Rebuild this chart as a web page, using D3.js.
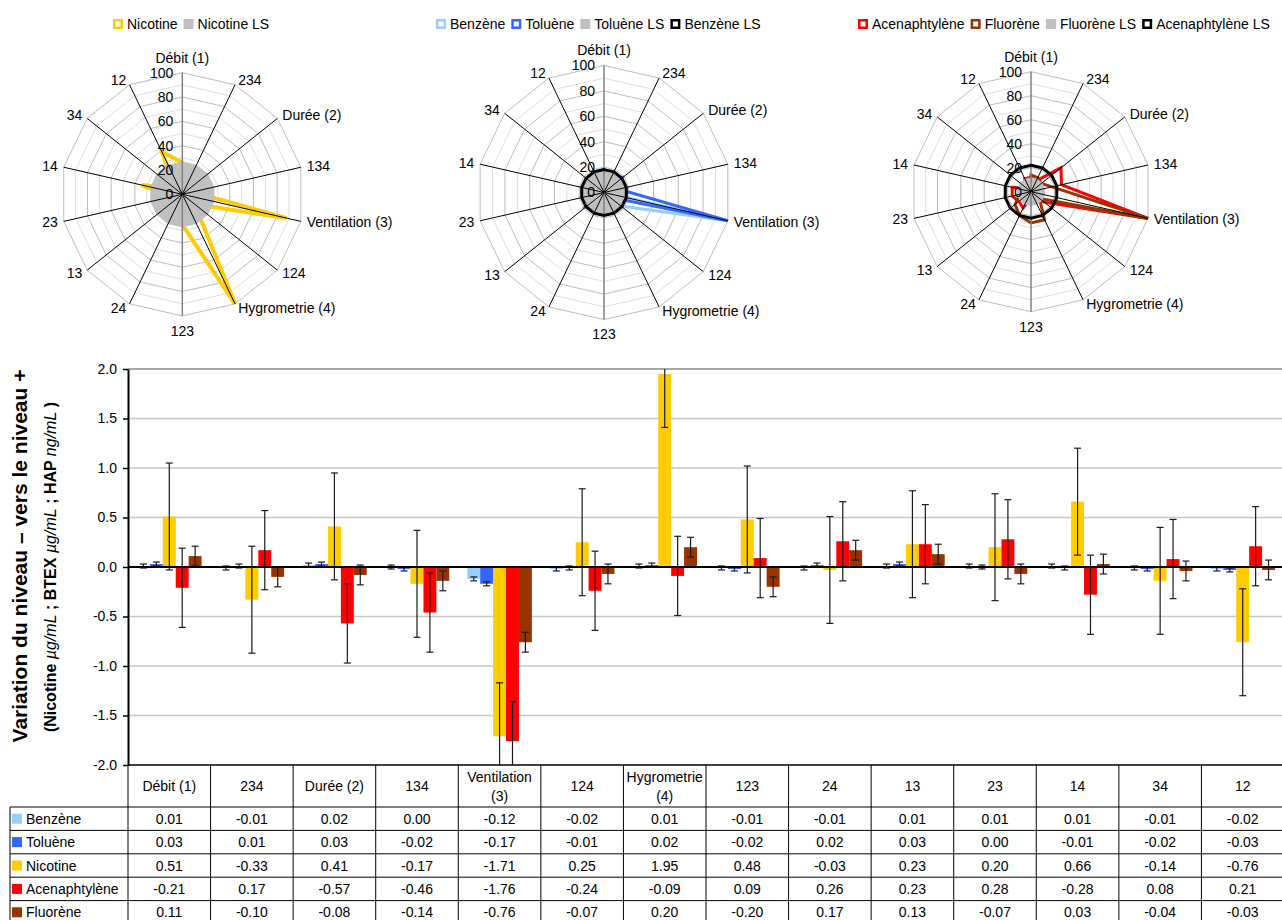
<!DOCTYPE html>
<html><head><meta charset="utf-8">
<script src="https://cdn.jsdelivr.net/npm/d3@7"></script>
<style>
body{margin:0;background:#fff;}
svg{display:block;font-family:"Liberation Sans",Arial,sans-serif;}
</style></head><body>
<svg id="chart" width="1282" height="920"></svg>
<script>
// ---------- DATA ----------
const categories = ["Débit (1)","234","Durée (2)","134","Ventilation (3)","124","Hygrometrie (4)","123","24","13","23","14","34","12"];
const headerLabels = [["Débit (1)"],["234"],["Durée (2)"],["134"],["Ventilation","(3)"],["124"],["Hygrometrie","(4)"],["123"],["24"],["13"],["23"],["14"],["34"],["12"]];
const seriesNames = ["Benzène","Toluène","Nicotine","Acenaphtylène","Fluorène"];
const seriesColors = ["#99CCFF","#3366FF","#FFCC00","#FF0000","#993300"];

const benzene       = [0.01,-0.01,0.02,0.00,-0.12,-0.02,0.01,-0.01,-0.01,0.01,0.01,0.01,-0.01,-0.02];
const toluene       = [0.03,0.01,0.03,-0.02,-0.17,-0.01,0.02,-0.02,0.02,0.03,0.00,-0.01,-0.02,-0.03];
const nicotine      = [0.51,-0.33,0.41,-0.17,-1.71,0.25,1.95,0.48,-0.03,0.23,0.20,0.66,-0.14,-0.76];
const acenaphtylene = [-0.21,0.17,-0.57,-0.46,-1.76,-0.24,-0.09,0.09,0.26,0.23,0.28,-0.28,0.08,0.21];
const fluorene      = [0.11,-0.10,-0.08,-0.14,-0.76,-0.07,0.20,-0.20,0.17,0.13,-0.07,0.03,-0.04,-0.03];

const errBenzene       = [0.02,0.02,0.02,0.02,0.02,0.02,0.02,0.02,0.02,0.02,0.02,0.02,0.02,0.02];
const errToluene       = [0.02,0.02,0.02,0.02,0.02,0.02,0.02,0.02,0.02,0.02,0.02,0.02,0.02,0.02];
const errNicotine      = [0.54,0.54,0.54,0.54,0.54,0.54,0.54,0.54,0.54,0.54,0.54,0.54,0.54,0.54];
const errAcenaphtylene = [0.40,0.40,0.40,0.40,0.40,0.40,0.40,0.40,0.40,0.40,0.40,0.40,0.40,0.40];
const errFluorene      = [0.10,0.10,0.10,0.10,0.10,0.10,0.10,0.10,0.10,0.10,0.10,0.10,0.10,0.10];

const yTicks = [-2.0,-1.5,-1.0,-0.5,0.0,0.5,1.0,1.5,2.0];

// radar values (% of max effect per compound)
const radarTicks = [0,20,40,60,80,100];
const radarNicotine      = [26,17,21,9,88,13,100,25,2,12,10,34,7,39];
const radarNicotineLS    = [27,27,27,27,27,27,27,27,27,27,27,27,27,27];
const radarBenzene       = [8,8,17,0,100,17,8,8,8,8,8,8,8,17];
const radarToluene       = [18,6,18,12,100,6,12,12,12,18,0,6,12,18];
const radarTolueneLS     = [17,17,17,17,17,17,17,17,17,17,17,17,17,17];
const radarBenzeneLS     = [18,18,18,18,18,18,18,18,18,18,18,18,18,18];
const radarAcenaphtylene = [12,10,32,26,100,14,5,5,15,13,16,16,5,12];
const radarFluorene      = [14,13,11,18,100,9,26,26,22,17,9,4,5,4];
const radarFluoreneLS    = [12,12,12,12,12,12,12,12,12,12,12,12,12,12];
const radarAcenaphtyleneLS = [22,22,22,22,22,22,22,22,22,22,22,22,22,22];

// ---------- SETUP ----------
const svg = d3.select("#chart");
const seriesValues = [benzene, toluene, nicotine, acenaphtylene, fluorene];
const seriesErrors = [errBenzene, errToluene, errNicotine, errAcenaphtylene, errFluorene];

const plot = {left:128, right:1284, top:369, bottom:765};
const x0 = d3.scaleBand().domain(categories).range([plot.left, plot.right]).padding(0);
const x1 = d3.scaleBand().domain(seriesNames).range([9, x0.bandwidth()-9]).padding(0);
const y = d3.scaleLinear().domain([-2,2]).range([plot.bottom, plot.top]);

// gridlines
svg.append("g").selectAll("line").data(yTicks.filter(d=>d>-2)).join("line")
  .attr("x1",plot.left).attr("x2",plot.right)
  .attr("y1",d=>y(d)).attr("y2",d=>y(d))
  .attr("stroke",d=>d===2?"#a6a6a6":"#c8c8c8").attr("stroke-width",d=>d===2?2:1.5);

// bars
const barsG = svg.append("g");
seriesNames.forEach((s,si)=>{
  barsG.append("g").selectAll("rect").data(seriesValues[si]).join("rect")
    .attr("x",(d,i)=>x0(categories[i])+x1(s))
    .attr("width",x1.bandwidth())
    .attr("y",d=>y(Math.max(0,d)))
    .attr("height",d=>Math.abs(y(d)-y(0)))
    .attr("fill",seriesColors[si]);
});

// error bars
const errG = svg.append("g").attr("stroke","#1a1a1a").attr("stroke-width",1.2);
seriesNames.forEach((s,si)=>{
  seriesValues[si].forEach((v,i)=>{
    const e = seriesErrors[si][i];
    const cx = x0(categories[i])+x1(s)+x1.bandwidth()/2;
    const hi = v+e, lo = v-e;
    const hiC = Math.min(2,hi), loC = Math.max(-2,lo);
    errG.append("line").attr("x1",cx).attr("x2",cx).attr("y1",y(hiC)).attr("y2",y(loC));
    if (hi<=2) errG.append("line").attr("x1",cx-3.5).attr("x2",cx+3.5).attr("y1",y(hi)).attr("y2",y(hi));
    if (lo>=-2) errG.append("line").attr("x1",cx-3.5).attr("x2",cx+3.5).attr("y1",y(lo)).attr("y2",y(lo));
  });
});

// zero line
svg.append("line").attr("x1",plot.left).attr("x2",plot.right).attr("y1",y(0)).attr("y2",y(0))
  .attr("stroke","#000").attr("stroke-width",2);

// y axis
const yAxis = d3.axisLeft(y).tickValues(yTicks).tickFormat(d=>d.toFixed(1)).tickSize(5).tickSizeOuter(0).tickPadding(6);
const ya = svg.append("g").attr("transform",`translate(${plot.left},0)`).call(yAxis);
ya.select(".domain").attr("stroke","#000").attr("stroke-width",2);
ya.selectAll(".tick line").attr("stroke","#000").attr("stroke-width",1.5);
ya.selectAll(".tick text").attr("font-size",14).attr("fill","#000").attr("font-family",'"Liberation Sans",Arial,sans-serif');

// y axis titles
svg.append("text").attr("transform",`translate(27,${(plot.top+plot.bottom)/2-11}) rotate(-90)`)
  .attr("text-anchor","middle").attr("font-weight","bold").attr("font-size",21)
  .text("Variation du niveau – vers le niveau +");
const t2 = svg.append("text").attr("transform",`translate(56,${(plot.top+plot.bottom)/2}) rotate(-90)`)
  .attr("text-anchor","middle").attr("font-size",16).attr("font-weight","bold");
[["(Nicotine ",false],["µg/mL",true],[" ; BTEX ",false],["µg/mL",true],[" ; HAP ",false],["ng/mL",true],[" )",false]]
  .forEach(([t,it])=>{
    const ts = t2.append("tspan").text(t);
    if(it) ts.attr("font-style","italic").attr("font-weight","normal");
  });

// ---------- TABLE ----------
const tableLeft = 10;
const headerTop = plot.bottom, headerBottom = 807;
const rowH = 23.4;
const rowTops = seriesNames.map((s,i)=>headerBottom+i*rowH);
const tG = svg.append("g");
// horizontal row lines
tG.selectAll("line.h").data(rowTops).join("line").attr("class","h")
  .attr("x1",tableLeft).attr("x2",plot.right).attr("y1",d=>d).attr("y2",d=>d)
  .attr("stroke","#000").attr("stroke-width",1);
// vertical boundaries
const bounds = categories.map(c=>x0(c)).concat([plot.right]);
tG.selectAll("line.v").data(bounds).join("line").attr("class","v")
  .attr("x1",d=>d).attr("x2",d=>d).attr("y1",headerTop).attr("y2",920)
  .attr("stroke","#000").attr("stroke-width",1);
tG.append("line").attr("x1",tableLeft).attr("x2",tableLeft).attr("y1",headerBottom).attr("y2",920)
  .attr("stroke","#000").attr("stroke-width",1);
// x axis line
svg.append("line").attr("x1",plot.left).attr("x2",plot.right).attr("y1",plot.bottom).attr("y2",plot.bottom)
  .attr("stroke","#000").attr("stroke-width",1.5);

// header labels
headerLabels.forEach((lines,i)=>{
  const cx = x0(categories[i])+x0.bandwidth()/2;
  const cy = (headerTop+headerBottom)/2;
  const txt = tG.append("text").attr("x",cx).attr("text-anchor","middle").attr("font-size",14).attr("fill","#000");
  if(lines.length===1){
    txt.attr("y",cy+5).text(lines[0]);
  } else {
    txt.append("tspan").attr("x",cx).attr("y",cy-4).text(lines[0]);
    txt.append("tspan").attr("x",cx).attr("y",cy+15).text(lines[1]);
  }
});
// rows
seriesNames.forEach((s,si)=>{
  const top = rowTops[si], mid = top+rowH/2;
  tG.append("rect").attr("x",12).attr("y",mid-5).attr("width",10).attr("height",10).attr("fill",seriesColors[si]);
  tG.append("text").attr("x",26).attr("y",mid+5).attr("font-size",14).attr("fill","#000").text(s);
  tG.append("g").selectAll("text").data(seriesValues[si]).join("text")
    .attr("x",(d,i)=>x0(categories[i])+x0.bandwidth()/2).attr("y",mid+5)
    .attr("text-anchor","middle").attr("font-size",14).attr("fill","#000")
    .text(d=>d.toFixed(2));
});

// ---------- RADARS ----------
const step = 2*Math.PI/categories.length;
function drawRadar(cx, cy, R, layers, legendX, legend){
  const g = svg.append("g").attr("transform",`translate(${cx},${cy})`);
  const r = d3.scaleLinear().domain([0,100]).range([0,R]);
  const ringLine = d3.lineRadial().angle((d,i)=>i*step).radius(d=>r(d)).curve(d3.curveLinearClosed);
  // rings
  const rings = d3.range(10,101,10);
  g.append("g").selectAll("path").data(rings).join("path")
    .attr("d",v=>ringLine(categories.map(()=>v)))
    .attr("fill","none").attr("stroke",v=>v%20===0?"#bdbdbd":"#dedede").attr("stroke-width",1);
  const seriesLine = d3.lineRadial().angle((d,i)=>i*step).radius(d=>r(d)).curve(d3.curveLinearClosed);
  // data lines and fills except "top" lines
  layers.filter(l=>!l.top).forEach(l=>{
    const p = g.append("path").attr("d",seriesLine(l.values));
    if(l.type==="fill") p.attr("fill",l.color).attr("stroke","none");
    else p.attr("fill","none").attr("stroke",l.color).attr("stroke-width",l.width).attr("stroke-linejoin","miter");
  });
  // spokes
  g.append("g").selectAll("line").data(categories).join("line")
    .attr("x1",0).attr("y1",0)
    .attr("x2",(d,i)=>R*Math.sin(i*step)).attr("y2",(d,i)=>-R*Math.cos(i*step))
    .attr("stroke",(d,i)=>(i===0||i===7)?"#808080":"#000")
    .attr("stroke-width",(d,i)=>(i===0||i===7)?1.5:1);
  // tick labels
  g.append("g").selectAll("text").data(radarTicks).join("text")
    .attr("x",-9).attr("y",d=>-r(d)).attr("dy","0.35em")
    .attr("text-anchor","end").attr("font-size",14).attr("fill","#000").text(d=>d);
  // top layers
  layers.filter(l=>l.top).forEach(l=>{
    g.append("path").attr("d",seriesLine(l.values))
      .attr("fill","none").attr("stroke",l.color).attr("stroke-width",l.width);
  });
  // category labels
  g.append("g").selectAll("text").data(categories).join("text")
    .each(function(d,i){
      const a = i*step, s = Math.sin(a), c = Math.cos(a);
      const t = d3.select(this);
      if(Math.abs(s)<0.01){
        const dd = 15;
        t.attr("x",0).attr("y",-(R+dd)*c).attr("text-anchor","middle");
      } else {
        const dd = 5;
        t.attr("x",(R+dd)*s+(s>0?1:-1)).attr("y",-(R+dd)*c).attr("text-anchor",s>0?"start":"end");
      }
    })
    .attr("dy","0.35em").attr("font-size",14).attr("fill","#000").text(d=>d);
  // legend
  const lg = svg.append("g");
  let xx = legendX;
  legend.forEach(it=>{
    if(it.type==="fill") lg.append("rect").attr("x",xx).attr("y",19).attr("width",10).attr("height",10).attr("fill",it.color);
    else lg.append("rect").attr("x",xx+1.25).attr("y",20.25).attr("width",7.5).attr("height",7.5).attr("fill","#fff").attr("stroke",it.color).attr("stroke-width",2.5);
    const tx = lg.append("text").attr("x",xx+14).attr("y",29).attr("font-size",14).attr("fill","#000").text(it.name);
    xx += 14 + tx.node().getComputedTextLength() + 6;
  });
}

drawRadar(182.3,194.3,121.6,[
  {values:radarNicotine,type:"line",color:"#FFCC00",width:4},
  {values:radarNicotineLS,type:"fill",color:"#C0C0C0"}
],113,[
  {name:"Nicotine",type:"line",color:"#FFCC00"},
  {name:"Nicotine LS",type:"fill",color:"#C0C0C0"}
]);

drawRadar(604,192.5,127,[
  {values:radarBenzene,type:"line",color:"#99CCFF",width:3},
  {values:radarToluene,type:"line",color:"#3366FF",width:3},
  {values:radarTolueneLS,type:"fill",color:"#C0C0C0"},
  {values:radarBenzeneLS,type:"line",color:"#000",width:3,top:true}
],436,[
  {name:"Benzène",type:"line",color:"#99CCFF"},
  {name:"Toluène",type:"line",color:"#3366FF"},
  {name:"Toluène LS",type:"fill",color:"#C0C0C0"},
  {name:"Benzène LS",type:"line",color:"#000"}
]);

drawRadar(1031,191.7,120,[
  {values:radarAcenaphtylene,type:"line",color:"#FF0000",width:3},
  {values:radarFluorene,type:"line",color:"#993300",width:3},
  {values:radarFluoreneLS,type:"fill",color:"#C0C0C0"},
  {values:radarAcenaphtyleneLS,type:"line",color:"#000",width:3,top:true}
],858,[
  {name:"Acenaphtylène",type:"line",color:"#FF0000"},
  {name:"Fluorène",type:"line",color:"#993300"},
  {name:"Fluorène LS",type:"fill",color:"#C0C0C0"},
  {name:"Acenaphtylène LS",type:"line",color:"#000"}
]);
</script>
</body></html>
